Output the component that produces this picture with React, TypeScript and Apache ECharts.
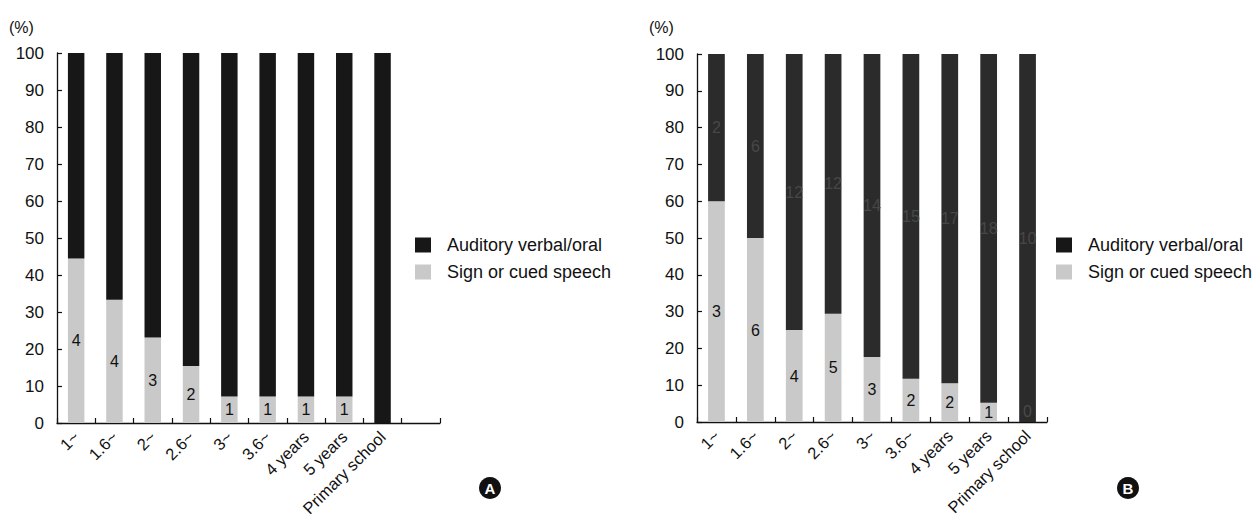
import React, { useEffect, useRef } from "react";
import * as echarts from "echarts";

// Age groups at which children started their education (same for both panels)
const categories = ["1~", "1.6~", "2~", "2.6~", "3~", "3.6~", "4 years", "5 years", "Primary school"];

// Panel A: number of children per communication mode
const signA = [4, 4, 3, 2, 1, 1, 1, 1, 0];
const oralA = [5, 8, 10, 11, 13, 13, 13, 13, 14];

// Panel B: number of children per communication mode
const signB = [3, 6, 4, 5, 3, 2, 2, 1, 0];
const oralB = [2, 6, 12, 12, 14, 15, 17, 18, 10];

const yTicks = [0, 10, 20, 30, 40, 50, 60, 70, 80, 90, 100];

const ORAL = "Auditory verbal/oral";
const SIGN = "Sign or cued speech";

const FONT = "'Liberation Sans', Arial, Helvetica, sans-serif";
const INK = "#111111";
const LIGHT = "#c9c9c9";
const DARK_A = "#171717";
const DARK_B = "#2b2b2b";

const pct = (part: number[], other: number[]) =>
  part.map((v, i) => (v / (v + other[i])) * 100);

export default function App() {
  const ref = useRef<HTMLDivElement>(null);

  useEffect(() => {
    if (!ref.current) return;
    const chart = echarts.init(ref.current, undefined, { renderer: "svg" });

    const xAxisBase = (gridIndex: number, data: string[]) => ({
      gridIndex,
      type: "category",
      data,
      axisLine: { lineStyle: { color: INK, width: 1.3 } },
      axisTick: { show: true, inside: true, length: 5, lineStyle: { color: INK, width: 1.2 } },
      axisLabel: { rotate: 45, fontSize: 16.5, color: INK, margin: 11, interval: 0, fontFamily: FONT },
      splitLine: { show: false },
    });

    const yAxisBase = (gridIndex: number) => ({
      gridIndex,
      type: "value",
      min: yTicks[0],
      max: yTicks[yTicks.length - 1],
      interval: yTicks[1] - yTicks[0],
      axisLine: { show: true, lineStyle: { color: INK, width: 1.3 } },
      axisTick: { show: true, inside: true, length: 5, lineStyle: { color: INK, width: 1.2 } },
      axisLabel: { fontSize: 17, color: INK, margin: 13, fontFamily: FONT },
      splitLine: { show: false },
    });

    const signSeries = (
      axis: number,
      stack: string,
      sign: number[],
      oral: number[],
      showZero: boolean
    ) => ({
      name: SIGN,
      type: "bar",
      stack,
      xAxisIndex: axis,
      yAxisIndex: axis,
      barWidth: "43%",
      itemStyle: { color: LIGHT },
      data: pct(sign, oral).map((v, i) =>
        sign[i] === 0
          ? {
              value: v,
              label: showZero
                ? { show: true, position: "insideBottom", distance: 3, color: "#4a4a4a" }
                : { show: false },
            }
          : v
      ),
      label: {
        show: true,
        position: "inside",
        fontSize: 16,
        color: INK,
        fontFamily: FONT,
        formatter: (p: any) => String(sign[p.dataIndex]),
      },
    });

    const oralSeries = (
      axis: number,
      stack: string,
      sign: number[],
      oral: number[],
      color: string,
      labelColor: string | null
    ) => ({
      name: ORAL,
      type: "bar",
      stack,
      xAxisIndex: axis,
      yAxisIndex: axis,
      barWidth: "43%",
      itemStyle: { color },
      data: pct(oral, sign),
      label: {
        show: labelColor !== null,
        position: "inside",
        fontSize: 16,
        color: labelColor || INK,
        fontFamily: FONT,
        formatter: (p: any) => String(oral[p.dataIndex]),
      },
    });

    const legendBase = (left: number) => ({
      orient: "vertical",
      left,
      top: 231,
      itemWidth: 16,
      itemHeight: 15,
      itemGap: 9,
      icon: "rect",
      selectedMode: false,
      textStyle: { fontSize: 18, color: INK, fontFamily: FONT, padding: [0, 0, 0, 11] },
      data: [
        { name: ORAL, itemStyle: { color: DARK_A } },
        { name: SIGN, itemStyle: { color: LIGHT } },
      ],
    });

    const badge = (x: number, y: number, letter: string) => [
      { type: "circle", shape: { cx: x, cy: y, r: 11 }, style: { fill: "#111111" } },
      {
        type: "text",
        x,
        y,
        style: {
          text: letter,
          fill: "#ffffff",
          font: `bold 15px ${FONT}`,
          textAlign: "center",
          textVerticalAlign: "middle",
        },
      },
    ];

    chart.setOption({
      animation: false,
      textStyle: { fontFamily: FONT },
      grid: [
        { left: 57, top: 53, width: 383, height: 370, containLabel: false },
        { left: 697, top: 54, width: 350, height: 368, containLabel: false },
      ],
      xAxis: [xAxisBase(0, [...categories, ""]), xAxisBase(1, categories)],
      yAxis: [yAxisBase(0), yAxisBase(1)],
      legend: [legendBase(410), legendBase(1051)],
      series: [
        signSeries(0, "A", signA, oralA, false),
        oralSeries(0, "A", signA, oralA, DARK_A, null),
        signSeries(1, "B", signB, oralB, true),
        oralSeries(1, "B", signB, oralB, DARK_B, "#474747"),
      ],
      graphic: [
        {
          type: "text",
          left: 9,
          top: 19,
          style: { text: "(%)", font: `16px ${FONT}`, fill: INK },
        },
        {
          type: "text",
          left: 649,
          top: 19,
          style: { text: "(%)", font: `16px ${FONT}`, fill: INK },
        },
        ...badge(490, 488, "A"),
        ...badge(1128, 488, "B"),
      ],
    });

    return () => chart.dispose();
  }, []);

  return (
    <div
      ref={ref}
      style={{ position: "fixed", left: 0, top: 0, width: 1254, height: 527, background: "#ffffff" }}
    />
  );
}
